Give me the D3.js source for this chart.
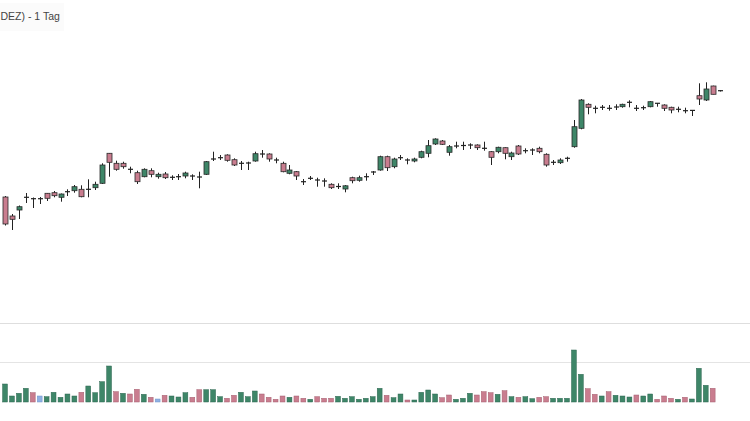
<!DOCTYPE html>
<html><head><meta charset="utf-8">
<script src="https://cdn.jsdelivr.net/npm/d3@7"></script>
<style>html,body{margin:0;padding:0;background:#fff;overflow:hidden}svg{display:block}</style>
</head><body><svg id="c" width="750" height="421"></svg>
<script>
const title = "DEZ) - 1 Tag";
const priorClose = 22.40;
const openP = [25.30,23.40,24.00,25.27,25.13,25.13,25.67,25.73,25.27,25.83,25.93,26.07,26.07,26.23,26.67,29.67,28.67,28.67,28.07,27.73,27.33,27.93,27.33,27.60,27.27,27.33,27.40,27.40,27.30,27.57,29.10,29.23,29.50,29.03,28.67,28.70,28.90,29.60,29.60,29.00,28.67,27.67,27.83,26.83,27.17,27.00,26.90,26.57,26.35,26.10,27.23,26.97,27.33,27.80,28.00,29.33,28.33,29.23,29.00,28.90,29.27,29.67,30.60,30.90,29.77,30.40,30.45,30.50,30.50,30.17,29.83,29.83,30.23,29.33,30.40,29.93,30.00,30.17,29.57,28.77,28.73,29.17,30.33,32.17,34.57,34.17,34.27,34.17,34.30,34.33,34.77,34.17,34.23,34.33,34.67,34.50,34.27,34.07,33.93,33.96,35.43,35.00,36.40,35.93];
const highP = [25.40,23.60,24.45,25.70,25.25,25.30,25.70,25.90,25.65,26.07,26.50,26.47,27.07,26.83,28.67,29.70,28.93,28.83,28.33,27.93,28.17,28.17,27.73,27.80,27.47,27.60,27.83,27.57,27.83,28.90,29.83,29.50,29.57,29.17,28.90,28.83,29.83,30.00,29.67,29.23,28.83,28.50,27.90,27.10,27.40,27.23,27.17,26.67,26.67,26.50,27.33,27.43,27.67,27.90,29.43,29.43,29.23,29.50,29.17,29.23,29.93,31.00,31.17,31.00,30.50,30.83,30.83,30.67,30.57,30.83,29.90,30.33,30.27,29.83,30.50,30.17,30.17,30.33,29.67,29.00,29.17,29.33,33.00,35.10,34.67,34.43,34.50,34.50,34.57,34.63,34.97,34.50,34.43,34.90,34.70,34.57,34.33,34.33,34.23,34.00,36.67,36.77,36.43,36.00];
const lowP = [22.45,22.00,23.10,24.70,24.20,24.60,24.90,25.27,24.83,25.40,25.73,25.27,25.27,26.00,26.60,27.33,27.93,28.13,27.67,26.60,27.27,27.27,27.13,27.10,27.00,27.00,27.17,27.00,26.17,27.50,28.90,29.00,28.83,28.40,28.00,28.00,28.83,29.23,28.83,28.67,27.77,27.57,27.00,26.50,27.00,26.33,26.33,26.10,26.10,25.77,26.67,26.83,26.93,27.50,27.93,27.90,28.17,29.00,28.57,28.77,29.17,29.27,30.50,30.50,29.43,30.17,30.00,30.10,30.00,29.93,28.50,29.67,29.07,29.00,29.50,29.67,29.50,29.67,28.33,28.50,28.60,28.83,30.23,32.07,33.57,33.67,34.00,33.93,34.00,34.23,34.27,33.90,34.00,34.27,34.33,33.90,33.67,33.77,33.67,33.40,34.50,34.90,35.57,35.85];
const closeP = [22.60,23.07,24.33,25.27,25.13,25.13,25.17,25.43,25.60,25.83,26.33,25.33,26.07,26.57,28.50,28.77,28.07,28.33,28.07,26.83,28.07,27.57,27.57,27.23,27.27,27.33,27.70,27.40,27.30,28.83,29.10,29.23,28.97,28.50,28.67,28.70,29.63,29.60,29.10,29.00,27.83,28.00,27.40,26.83,27.17,27.00,26.90,26.23,26.35,26.42,26.93,27.23,27.33,27.80,29.33,28.23,29.10,29.23,29.00,29.10,29.83,30.43,31.10,30.57,30.33,30.40,30.45,30.50,30.23,30.17,29.27,30.27,29.67,29.70,29.60,29.93,30.00,29.83,28.50,28.77,29.00,29.17,32.33,35.00,34.27,34.17,34.27,34.17,34.30,34.57,34.77,34.17,34.23,34.83,34.67,34.17,34.00,34.07,33.93,33.96,35.10,36.10,35.57,35.93];
const volumeK = [90,30,43.5,68.5,46.5,30,26.5,48.5,23.5,40,30,48.5,80,46.5,101.5,180,51.5,43.5,40,63.5,38.5,23.5,15,33.5,30,25,46.5,23.5,61.5,61.5,61.5,26.5,18.5,33.5,48.5,26.5,55,40,23.5,13.5,30,23.5,30,18.5,13.5,26.5,18.5,18.5,28.5,18.5,26.5,13.5,18.5,26.5,68.5,33.5,21.5,40,10,10,48.5,60,40,21.5,35,13.5,18.5,43.5,35,51.5,46.5,38.5,56.5,26.5,23.5,26.5,16.5,23.5,26.5,18.5,18.5,18.5,260,138.5,66.5,38.5,30,51.5,33.5,30,25,35,30,40,13.5,30,18.5,13.5,23.5,15,168.5,83.5,68.5,null];
const volGridK = [200];

const W = 750, H = 421;
const svg = d3.select("#c");
const n = openP.length;
const idx = d3.range(n);

const GREEN = "#3e8668", PINK = "#c97d8f", BLUE = "#8fb1e3";
const GREEN_S = "#2d6650", PINK_S = "#a55e6f", BLUE_S = "#6f93c9";

const x = d3.scaleBand().domain(idx).range([0.5, 0.5 + 104 * 6.958]).padding(0.3);
const y = d3.scaleLinear().domain([20, 37]).range([250, 80]);
const yv = d3.scaleLinear().domain([0, 200]).range([402, 362]);

// title area
svg.append("rect").attr("x", 0).attr("y", 3).attr("width", 64).attr("height", 28).attr("fill", "#fbfbfb");
svg.append("text").attr("x", 0.5).attr("y", 20)
  .attr("font-family", "Liberation Sans, Arial, sans-serif").attr("font-size", 10.5)
  .attr("fill", "#444").text(title);

// separators / grid
svg.append("line").attr("x1", 0).attr("x2", W).attr("y1", 323.5).attr("y2", 323.5).attr("stroke", "#dedede");
svg.selectAll(".vg").data(volGridK).join("line").attr("class", "vg")
  .attr("x1", 0).attr("x2", W).attr("y1", d => Math.round(yv(d)) + 0.5).attr("y2", d => Math.round(yv(d)) + 0.5)
  .attr("stroke", "#e4e4e4");

// volume
const volDir = i => {
  const prev = i === 0 ? priorClose : closeP[i - 1];
  return closeP[i] > prev ? 1 : closeP[i] < prev ? -1 : 0;
};
svg.append("g").selectAll("rect").data(idx.filter(i => volumeK[i] != null)).join("rect")
  .attr("x", i => x(i)).attr("width", x.bandwidth())
  .attr("y", i => yv(volumeK[i])).attr("height", i => yv(0) - yv(volumeK[i]))
  .attr("fill", i => volDir(i) > 0 ? GREEN : volDir(i) < 0 ? PINK : BLUE)
  .attr("stroke", i => volDir(i) > 0 ? GREEN_S : volDir(i) < 0 ? PINK_S : BLUE_S)
  .attr("stroke-width", 0.5);

// candles
const g = svg.append("g");
const cx = i => Math.round(x(i) + x.bandwidth() / 2) + 0.5;
g.selectAll(".wick").data(idx).join("line").attr("class", "wick")
  .attr("x1", cx).attr("x2", cx)
  .attr("y1", i => y(highP[i])).attr("y2", i => y(lowP[i]))
  .attr("stroke", "#222").attr("stroke-width", 1);
g.selectAll(".body").data(idx).join("rect").attr("class", "body")
  .attr("x", i => cx(i) - 2.5).attr("width", 5)
  .attr("y", i => {
    const t = y(Math.max(openP[i], closeP[i])), b = y(Math.min(openP[i], closeP[i]));
    return (b - t) < 1.2 ? (t + b) / 2 - 0.6 : t;
  })
  .attr("height", i => Math.max(1.2, y(Math.min(openP[i], closeP[i])) - y(Math.max(openP[i], closeP[i]))))
  .attr("fill", i => closeP[i] > openP[i] ? GREEN : closeP[i] < openP[i] ? PINK : "#222")
  .attr("stroke", "#2a2a2a").attr("stroke-width", i => closeP[i] === openP[i] ? 0 : 0.8);
</script>
</body></html>
